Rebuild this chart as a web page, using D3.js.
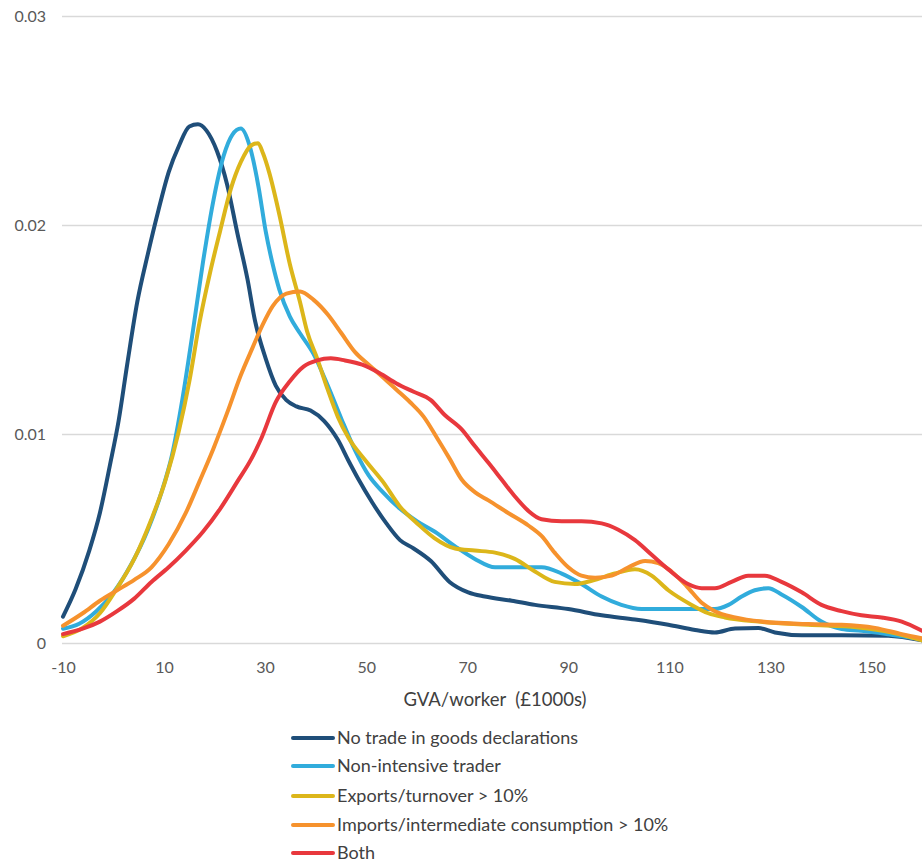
<!DOCTYPE html>
<html>
<head>
<meta charset="utf-8">
<script src="https://cdn.jsdelivr.net/npm/d3@7"></script>
<style>
  html, body { margin: 0; padding: 0; background: #ffffff; }
  svg { display: block; }
  text { font-family: Lato, "Open Sans", sans-serif; }
</style>
</head>
<body>
<svg id="chart" width="922" height="863"></svg>
<script>
// ---- data (GVA/worker in £1000s, density) ----
const seriesNames = [
  "No trade in goods declarations",
  "Non-intensive trader",
  "Exports/turnover > 10%",
  "Imports/intermediate consumption > 10%",
  "Both"
];
const xTicks = [-10, 10, 30, 50, 70, 90, 110, 130, 150];
const yTicks = [0, 0.01, 0.02, 0.03];
const yTickLabels = ["0", "0.01", "0.02", "0.03"];
const xTitle = "GVA/worker  (£1000s)";

const noTrade = [[-10,0.00124],[-7.5,0.00256],[-4.8,0.0044],[-2.7,0.0062],[-0.7,0.0085],[1.0,0.0106],[2.7,0.0133],[4.7,0.0163],[6.8,0.0186],[8.9,0.0207],[10.9,0.0225],[13.0,0.0238],[15.0,0.0247],[16.7,0.0248],[18.4,0.0245],[20.5,0.0235],[22.5,0.0219],[24.5,0.0196],[26.5,0.0174],[28.0,0.0154],[30.1,0.0136],[32.1,0.0123],[34.2,0.0116],[36.2,0.0113],[39.0,0.0111],[41.7,0.0106],[44.4,0.0097],[46.5,0.0087],[48.5,0.0078],[51.2,0.0067],[54.0,0.0057],[56.7,0.0049],[59.4,0.0045],[62.8,0.0039],[66.5,0.0029],[70.2,0.0024],[73.5,0.0022],[78.8,0.0020],[83.4,0.0018],[90,0.0016],[96.6,0.0013],[103.2,0.0011],[109.8,0.00085],[115.1,0.0006],[119,0.00048],[123,0.00067],[127.6,0.00069],[130.9,0.00048],[136.2,0.00035],[144.1,0.00035],[153.3,0.00032],[160,0.0001]];

const nonIntensive = [[-10,0.00066],[-6.8,0.0009],[-3.4,0.0015],[0,0.0024],[3.4,0.0037],[6.8,0.0054],[9.5,0.0072],[11.6,0.009],[13.6,0.0116],[15.7,0.0149],[17.7,0.0182],[19.8,0.0212],[21.8,0.0233],[23.5,0.0243],[25.2,0.0246],[26.9,0.0238],[28.7,0.0218],[30.1,0.0197],[31.5,0.0181],[32.8,0.0169],[34.9,0.0156],[36.9,0.0148],[39.6,0.0138],[42.4,0.0123],[45.1,0.0107],[47.8,0.0092],[50.5,0.008],[53.3,0.0072],[56.7,0.0064],[60.1,0.0058],[63.6,0.0053],[67.6,0.0046],[71.5,0.004],[75.5,0.0036],[80.1,0.0036],[84.7,0.0036],[88.7,0.0033],[92.6,0.0028],[96.6,0.0022],[100.5,0.0018],[104.5,0.0016],[110,0.0016],[119,0.0016],[121.7,0.0018],[124.3,0.0022],[126.9,0.0025],[129.6,0.0026],[132.2,0.0023],[136.2,0.0017],[140.1,0.001],[144.1,0.00064],[148,0.00056],[153.3,0.0004],[160,0.00016]];

const exportsHigh = [[-10,0.0003],[-6.1,0.0007],[-2.7,0.0014],[0.7,0.0026],[4.1,0.004],[7.5,0.0059],[10.2,0.0077],[12.9,0.0101],[15,0.0125],[17,0.0153],[19.1,0.0177],[21.1,0.0197],[23.2,0.0217],[25.2,0.023],[27.3,0.0238],[28.6,0.0239],[29.6,0.0234],[30.8,0.0225],[32.8,0.0205],[34.9,0.0181],[36.9,0.0163],[38.3,0.0149],[40.3,0.0136],[42.4,0.0121],[44.4,0.0108],[46.5,0.0098],[49.9,0.0087],[53.3,0.0077],[56.7,0.0065],[60.1,0.0057],[63.5,0.005],[67.6,0.0045],[71.5,0.0044],[75.5,0.0043],[79.4,0.004],[83.4,0.0034],[87.3,0.0029],[91.3,0.0028],[95.3,0.003],[99.2,0.0033],[103.2,0.0035],[106.5,0.0032],[109.8,0.0025],[114.4,0.0018],[117.7,0.0014],[121,0.0012],[127.6,0.001],[137.5,0.00085],[147.4,0.00072],[154,0.00048],[160,0.0001]];

const importsHigh = [[-10,0.0008],[-6.1,0.0014],[-2.7,0.002],[0.7,0.0025],[4.1,0.003],[7.5,0.0036],[10.9,0.0047],[14.3,0.0062],[17,0.0077],[19.8,0.0093],[22.5,0.011],[25.2,0.0128],[27.5,0.0141],[29.5,0.0152],[31.5,0.0161],[34.2,0.0167],[36.9,0.0168],[39.6,0.0164],[42.4,0.0157],[45.1,0.0148],[47.8,0.0139],[50.5,0.0133],[53.3,0.0127],[56,0.0121],[58.7,0.0115],[61.4,0.0108],[64,0.0098],[66.5,0.0088],[68.9,0.0078],[71.5,0.0072],[74.2,0.0068],[78.1,0.0062],[82.1,0.0056],[84.7,0.0051],[87.3,0.0043],[90,0.0036],[92.6,0.0032],[95.3,0.0031],[98.6,0.0032],[101.9,0.0036],[105.2,0.0039],[107.8,0.0038],[110.4,0.0034],[113.4,0.0027],[116.4,0.0019],[119,0.0015],[123,0.0012],[128.3,0.001],[137.5,0.00088],[144.1,0.00085],[150.7,0.0007],[156,0.0004],[160,0.0002]];

const both = [[-10,0.0004],[-6.1,0.00066],[-2.7,0.001],[0.7,0.0015],[4.1,0.0021],[7.5,0.0029],[10.9,0.0036],[14.3,0.0044],[17.7,0.0053],[21.1,0.0064],[24.5,0.0077],[27.3,0.0088],[29.3,0.0098],[32.1,0.0115],[34.9,0.0125],[37.6,0.0132],[40.3,0.0135],[43,0.0136],[45.8,0.0135],[49.2,0.0133],[52.6,0.0129],[56,0.0124],[59.4,0.012],[62.8,0.0116],[65.5,0.0109],[68.9,0.0102],[71.5,0.0094],[74.2,0.0086],[76.8,0.0078],[79.4,0.007],[82.1,0.0063],[84.7,0.0059],[88.7,0.0058],[92.6,0.0058],[96.6,0.0057],[99.9,0.0054],[103.2,0.0049],[106.5,0.0042],[109.8,0.0035],[113.7,0.0028],[116.4,0.0026],[119,0.0026],[122.3,0.0029],[125.6,0.0032],[128.9,0.0032],[132.2,0.0029],[136.2,0.0024],[140.1,0.0018],[144.1,0.0015],[148,0.0013],[152,0.0012],[156,0.001],[160,0.00056]];

const seriesColors = ["#1f4e79", "#31acdc", "#dcb61a", "#f6922d", "#e8383d"];
const seriesData = [noTrade, nonIntensive, exportsHigh, importsHigh, both];

// ---- layout ----
const svg = d3.select("#chart");
const plot = { left: 63, right: 922, top: 15.7, bottom: 642.5 };

const x = d3.scaleLinear().domain([-10, 160]).range([plot.left, plot.right]);
const y = d3.scaleLinear().domain([0, 0.03]).range([plot.bottom, plot.top]);

// gridlines
svg.append("g")
  .selectAll("line")
  .data(yTicks)
  .join("line")
  .attr("x1", 62).attr("x2", 922)
  .attr("y1", d => Math.round(y(d)) + 0.5).attr("y2", d => Math.round(y(d)) + 0.5)
  .attr("stroke", "#d9d9d9").attr("stroke-width", 1.3);

// y axis labels
const yAxis = d3.axisLeft(y).tickValues(yTicks).tickSize(0)
  .tickFormat((d, i) => yTickLabels[i]);
const gy = svg.append("g").attr("transform", "translate(46,0)").call(yAxis);
gy.select(".domain").remove();
gy.selectAll("text").attr("x", 0).attr("dy", "0.35em")
  .style("font-family", "Lato, 'Open Sans', sans-serif")
  .style("font-size", "16px").attr("fill", "#595959");

// x axis labels
const xAxis = d3.axisBottom(x).tickValues(xTicks).tickSize(0).tickFormat(d => String(d));
const gx = svg.append("g").attr("transform", `translate(0,${plot.bottom})`).call(xAxis);
gx.select(".domain").remove();
gx.selectAll("text").attr("y", 24.5).attr("dy", "0.35em")
  .style("font-family", "Lato, 'Open Sans', sans-serif")
  .style("font-size", "16px").attr("fill", "#595959");

// axis title
svg.append("text")
  .attr("x", 495).attr("y", 700).attr("dy", "0.35em")
  .attr("text-anchor", "middle")
  .style("white-space", "pre")
  .style("font-size", "18.5px").attr("fill", "#404040")
  .text(xTitle);

// lines
const line = d3.line().x(d => x(d[0])).y(d => y(d[1])).curve(d3.curveMonotoneX);
svg.append("g")
  .selectAll("path")
  .data(seriesData)
  .join("path")
  .attr("d", d => line(d))
  .attr("fill", "none")
  .attr("stroke", (d, i) => seriesColors[i])
  .attr("stroke-width", 4)
  .attr("stroke-linejoin", "round")
  .attr("stroke-linecap", "round");

// legend
const legendY = [738, 766, 796, 825, 853];
const lg = svg.append("g").selectAll("g").data(seriesNames).join("g")
  .attr("transform", (d, i) => `translate(0,${legendY[i]})`);
lg.append("line").attr("x1", 293).attr("x2", 333).attr("y1", 0).attr("y2", 0)
  .attr("stroke", (d, i) => seriesColors[i]).attr("stroke-width", 4)
  .attr("stroke-linecap", "round");
lg.append("text").attr("x", 337).attr("y", 0).attr("dy", "0.35em")
  .style("font-size", "18px").attr("fill", "#404040")
  .text(d => d);
</script>
</body>
</html>
